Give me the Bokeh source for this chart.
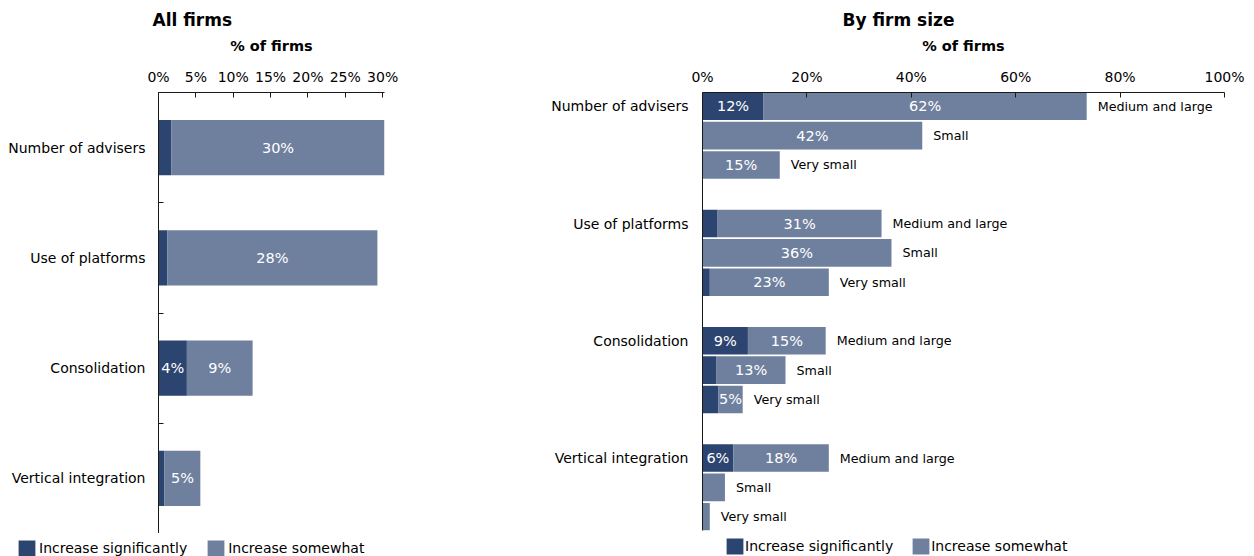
from bokeh.plotting import figure
from bokeh.layouts import row, column
from bokeh.models import Range1d, FixedTicker, PrintfTickFormatter, Legend, LegendItem, ColumnDataSource
from bokeh.core.properties import value
from bokeh.embed import file_html
from bokeh.resources import INLINE

FONT = "DejaVu Sans"
DARK = "#2c4470"
LIGHT = "#6f809e"
AXIS = "#1a1a1a"

# ---------------- data: all firms ----------------
categories = ["Number of advisers", "Use of platforms", "Consolidation", "Vertical integration"]
all_sig = [1.7, 1.2, 3.8, 0.8]
all_some = [28.6, 28.1, 8.8, 4.8]
all_sig_labels = ["", "", "4%", ""]
all_some_labels = ["30%", "28%", "9%", "5%"]
all_ticks = [0, 5, 10, 15, 20, 25, 30]

# ---------------- data: by firm size ----------------
sizes = ["Medium and large", "Small", "Very small"]
ml_sig = [11.7, 2.9, 8.7, 5.9]
ml_some = [61.9, 31.4, 14.9, 18.3]
small_sig = [0, 0, 2.7, 0]
small_some = [42.1, 36.2, 13.2, 4.3]
vsmall_sig = [0, 1.4, 3.0, 0]
vsmall_some = [14.8, 22.8, 4.7, 1.4]
ml_sig_labels = ["12%", "", "9%", "6%"]
ml_some_labels = ["62%", "31%", "15%", "18%"]
small_sig_labels = ["", "", "", ""]
small_some_labels = ["42%", "36%", "13%", ""]
vsmall_sig_labels = ["", "", "", ""]
vsmall_some_labels = ["15%", "23%", "5%", ""]
size_ticks = [0, 20, 40, 60, 80, 100]

legend_labels = ["Increase significantly", "Increase somewhat"]


def style_common(p):
    p.xgrid.visible = False
    p.ygrid.visible = False
    p.outline_line_color = None
    p.title.text_font = FONT
    p.title.text_font_size = "17px"
    p.title.text_font_style = "bold"
    p.title.text_color = "black"
    p.title.align = "left"
    for ax in p.axis:
        ax.axis_line_color = AXIS
        ax.major_tick_line_color = AXIS
        ax.minor_tick_line_color = AXIS
        ax.major_label_text_font = FONT
        ax.major_label_text_font_size = "14px"
        ax.major_label_text_color = "black"
    xa = p.xaxis[0]
    xa.axis_label = "% of firms"
    xa.axis_label_text_font = FONT
    xa.axis_label_text_font_size = "14.5px"
    xa.axis_label_text_font_style = "bold"
    xa.axis_label_text_color = "black"
    xa.axis_label_standoff = 12
    xa.major_tick_in = 5
    xa.major_tick_out = 0
    xa.minor_tick_in = 0
    xa.minor_tick_out = 0
    xa.major_label_standoff = 8
    xa.formatter = PrintfTickFormatter(format="%d%%")


def legend_figure(width, loc, standoff, spacing, source):
    # a strip that only hosts the legend; its bars lie outside its visible ranges
    lf = figure(width=width, height=23, x_range=Range1d(-100, -99), y_range=Range1d(-100, -99),
                x_axis_location=None, y_axis_location=None,
                output_backend="svg", toolbar_location=None,
                min_border_left=0, min_border_right=0, min_border_top=0, min_border_bottom=0)
    lf.xgrid.visible = False
    lf.ygrid.visible = False
    lf.outline_line_color = None
    ra = lf.hbar(y="y", left=0, right="sig", height=0.5, source=source,
                 fill_color=DARK, line_color=None)
    rb = lf.hbar(y="y", left="sig", right="tot", height=0.5, source=source,
                 fill_color=LIGHT, line_color=None)
    leg = Legend(
        items=[LegendItem(label=legend_labels[0], renderers=[ra], index=0),
               LegendItem(label=legend_labels[1], renderers=[rb], index=0)],
        orientation="horizontal", location=loc,
        glyph_width=21, glyph_height=20, label_height=20, label_width=10,
        label_standoff=standoff, spacing=spacing, padding=0, margin=0,
        border_line_color=None, background_fill_alpha=0,
        label_text_font=FONT, label_text_font_size="14px", label_text_color="black",
    )
    lf.add_layout(leg, "center")
    return lf


# ---------------- left chart ----------------
n = len(categories)
ys = [i + 0.5 for i in range(n)]
tot = [a + b for a, b in zip(all_sig, all_some)]
src1 = ColumnDataSource(dict(
    y=ys, sig=all_sig, tot=tot,
    sig_mid=[a / 2 for a in all_sig],
    some_mid=[a + b / 2 for a, b in zip(all_sig, all_some)],
    sig_lab=all_sig_labels, some_lab=all_some_labels,
))

p1 = figure(frame_width=226, frame_height=441,
            x_range=Range1d(0, 30.25), y_range=Range1d(n, 0),
            x_axis_location="above", output_backend="svg", toolbar_location=None,
            min_border_left=158, min_border_right=24, min_border_top=92, min_border_bottom=0,
            title="All firms")
p1.hbar(y="y", left=0, right="sig", height=0.5, source=src1, fill_color=DARK, line_color=None)
p1.hbar(y="y", left="sig", right="tot", height=0.5, source=src1, fill_color=LIGHT, line_color=None)
p1.text(x="sig_mid", y="y", text="sig_lab", source=src1, text_color="white",
        text_font=value(FONT), text_font_size="14.5px", text_align="center", text_baseline="middle")
p1.text(x="some_mid", y="y", text="some_lab", source=src1, text_color="white",
        text_font=value(FONT), text_font_size="14.5px", text_align="center", text_baseline="middle")
style_common(p1)
p1.title.offset = -6
p1.xaxis.ticker = FixedTicker(ticks=all_ticks)
ya = p1.yaxis[0]
ya.ticker = FixedTicker(ticks=ys, minor_ticks=list(range(n + 1)))
ya.major_label_overrides = {y: c for y, c in zip(ys, categories)}
ya.major_tick_in = 0
ya.major_tick_out = 0
ya.minor_tick_in = 5
ya.minor_tick_out = 0
ya.major_label_standoff = 13

# ---------------- right chart ----------------
sig_groups = [ml_sig, small_sig, vsmall_sig]
some_groups = [ml_some, small_some, vsmall_some]
sig_lab_groups = [ml_sig_labels, small_sig_labels, vsmall_sig_labels]
some_lab_groups = [ml_some_labels, small_some_labels, vsmall_some_labels]
rows = dict(y=[], sig=[], tot=[], sig_mid=[], some_mid=[], sig_lab=[], some_lab=[], size=[])
for g in range(n):
    for s in range(len(sizes)):
        a = sig_groups[s][g]
        b = some_groups[s][g]
        rows["y"].append(4 * g + s)
        rows["sig"].append(a)
        rows["tot"].append(a + b)
        rows["sig_mid"].append(a / 2)
        rows["some_mid"].append(a + b / 2)
        rows["sig_lab"].append(sig_lab_groups[s][g])
        rows["some_lab"].append(some_lab_groups[s][g])
        rows["size"].append(sizes[s])
src2 = ColumnDataSource(rows)

p2 = figure(frame_width=522, frame_height=438,
            x_range=Range1d(0, 100), y_range=Range1d(14.47, -0.47),
            x_axis_location="above", output_backend="svg", toolbar_location=None,
            min_border_left=294, min_border_right=30, min_border_top=91, min_border_bottom=4,
            title="By firm size")
p2.hbar(y="y", left=0, right="sig", height=0.94, source=src2, fill_color=DARK, line_color=None)
p2.hbar(y="y", left="sig", right="tot", height=0.94, source=src2, fill_color=LIGHT, line_color=None)
p2.text(x="sig_mid", y="y", text="sig_lab", source=src2, text_color="white",
        text_font=value(FONT), text_font_size="14.5px", text_align="center", text_baseline="middle")
p2.text(x="some_mid", y="y", text="some_lab", source=src2, text_color="white",
        text_font=value(FONT), text_font_size="14.5px", text_align="center", text_baseline="middle")
p2.text(x="tot", y="y", text="size", source=src2, text_color="black", x_offset=11,
        text_font=value(FONT), text_font_size="12.7px", text_align="left", text_baseline="middle")
style_common(p2)
p2.title.offset = 140
p2.xaxis.ticker = FixedTicker(ticks=size_ticks)
yb = p2.yaxis[0]
yb.ticker = FixedTicker(ticks=[4 * g for g in range(n)])
yb.major_label_overrides = {4 * g: c for g, c in enumerate(categories)}
yb.major_tick_in = 0
yb.major_tick_out = 0
yb.minor_tick_in = 0
yb.minor_tick_out = 0
yb.major_label_standoff = 14

leg1 = legend_figure(408, (16, -2), 2, 18, src1)
leg2 = legend_figure(846, (316, 0), 0, 17, src2)

layout = column(row(p1, p2), row(leg1, leg2))
open("out.html", "w").write(file_html(layout, INLINE))
